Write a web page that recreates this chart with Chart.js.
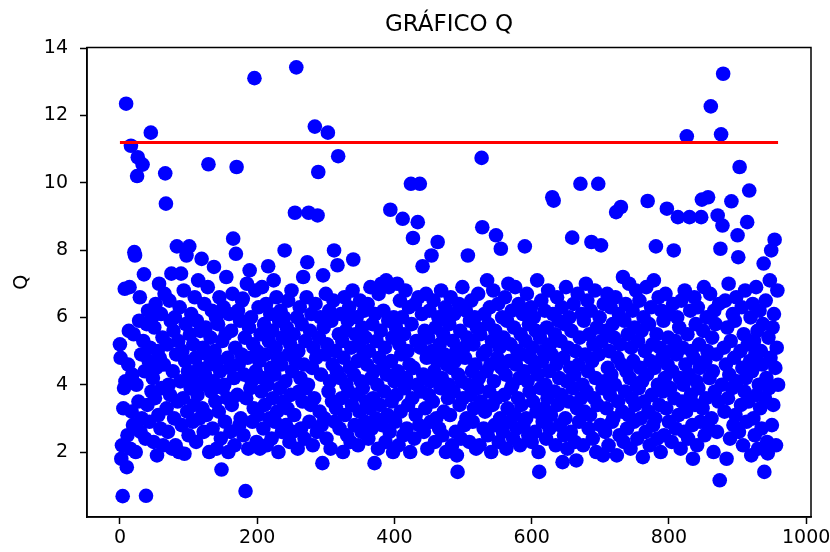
<!DOCTYPE html>
<html>
<head>
    <meta charset="utf-8">
    <title>GRÁFICO Q</title>
    <script src="https://cdn.jsdelivr.net/npm/chart.js@4"></script>
    <style>
        html, body {
            margin: 0;
            padding: 0;
            background: #fff;
        }

        #chart-container {
            width: 830px;
            height: 552px;
            position: relative;
        }
    </style>
</head>
<body>
    <div id="chart-container">
        <canvas id="chart"></canvas>
    </div>

    <script>
        // valores de Q, uno por muestra (el eje X es el índice de la muestra)
        const valoresQ = [
            5.2, 4.8, 1.8, 2.2, 0.69, 3.3, 3.9, 6.85, 4.1, 12.35, 1.55, 2.5, 4.6, 5.6, 6.9, 2.1, 11.1, 3.2, 4.3, 2.8, 5.5, 7.94, 7.84, 2.0, 4.0, 10.2, 10.76, 3.5, 5.9, 6.6, 2.6, 4.9, 3.0, 10.54, 5.3, 7.28, 4.4, 2.4, 0.7, 5.8,
            3.4, 6.2, 4.7, 2.9, 5.1, 11.49, 3.8, 6.0, 4.2, 2.3, 5.7, 3.6, 6.4, 4.5, 1.9, 5.0, 3.1, 7.0, 4.8, 2.7, 6.1, 3.9, 5.4, 2.2, 4.6, 6.7, 10.28, 9.38, 3.3, 5.2, 2.6, 4.0, 6.5, 3.7, 5.9, 7.3, 2.1, 4.4, 5.6, 3.0,
            6.0, 2.2, 4.9, 8.11, 3.5, 5.3, 2.0, 6.3, 4.1, 7.3, 2.8, 5.0, 3.6, 6.8, 1.95, 4.7, 5.8, 7.84, 3.2, 4.4, 2.5, 8.11, 5.5, 3.9, 6.1, 4.2, 2.9, 5.2, 3.4, 6.6, 4.8, 2.3, 5.9, 3.7, 7.1, 4.5, 3.0, 5.6, 4.0, 7.74,
            3.3, 5.1, 2.6, 6.4, 4.3, 5.7, 3.1, 4.9, 6.9, 10.55, 2.0, 4.6, 5.4, 3.8, 6.2, 2.7, 4.1, 7.5, 5.0, 3.5, 6.0, 2.1, 4.7, 5.8, 3.2, 6.6, 4.4, 2.4, 1.48, 5.3, 3.9, 6.3, 4.0, 2.9, 5.5, 7.2, 3.6, 4.8, 2.0, 6.1,
            4.5, 2.6, 5.6, 3.4, 6.7, 8.34, 4.2, 2.2, 5.1, 7.89, 10.47, 3.7, 6.2, 4.6, 2.8, 5.9, 3.0, 4.9, 6.5, 6.56, 2.5, 4.3, 5.4, 0.84, 3.6, 7.0, 4.8, 2.1, 5.7, 7.4, 3.9, 6.0, 4.1, 2.9, 5.2, 3.3, 13.11, 6.8, 4.4, 2.3,
            5.0, 3.1, 6.3, 4.7, 2.1, 5.5, 3.8, 6.9, 4.2, 2.7, 5.8, 3.4, 4.9, 6.4, 2.2, 4.0, 7.52, 5.3, 3.0, 6.1, 4.5, 2.4, 5.6, 3.6, 7.1, 4.3, 2.9, 5.1, 6.6, 3.2, 4.8, 2.0, 5.9, 3.9, 6.2, 4.6, 2.6, 5.4, 3.5, 6.0,
            7.99, 4.1, 2.8, 5.7, 3.3, 6.5, 4.9, 2.3, 5.2, 3.7, 6.8, 4.4, 2.6, 5.5, 3.1, 9.11, 4.7, 13.43, 6.0, 2.1, 5.0, 3.8, 6.3, 4.2, 2.7, 5.8, 3.5, 7.2, 4.6, 2.4, 5.3, 3.9, 6.6, 7.64, 4.0, 9.11, 2.9, 5.6, 3.4, 6.1,
            4.5, 2.2, 5.1, 3.6, 11.67, 6.4, 4.8, 2.6, 9.03, 10.32, 5.4, 3.2, 6.0, 4.3, 2.8, 1.67, 7.25, 5.7, 3.0, 4.9, 6.7, 2.4, 5.2, 11.49, 3.8, 6.2, 4.1, 2.1, 5.9, 3.5, 4.6, 6.5, 7.99, 2.9, 5.0, 3.3, 4.4, 7.55, 10.79, 5.5,
            2.7, 4.2, 6.1, 3.6, 5.3, 2.0, 4.8, 6.6, 3.1, 5.6, 4.0, 2.5, 5.9, 3.8, 6.3, 4.5, 2.3, 5.1, 3.4, 6.8, 7.72, 4.3, 2.8, 5.5, 3.7, 6.0, 4.7, 2.2, 5.2, 3.2, 6.5, 4.1, 2.6, 5.7, 3.9, 4.9, 6.2, 2.9, 5.4, 3.5,
            4.6, 6.4, 2.4, 5.0, 3.3, 6.9, 4.2, 2.7, 5.8, 3.6, 4.4, 1.67, 6.1, 3.0, 5.3, 4.0, 2.1, 6.7, 4.8, 3.4, 5.6, 7.0, 2.8, 4.5, 6.2, 3.8, 5.1, 2.3, 7.1, 4.3, 3.1, 5.9, 6.9, 2.6, 9.2, 4.7, 3.5, 5.4, 2.0, 6.0,
            4.1, 2.9, 5.7, 3.7, 7.0, 4.4, 2.2, 5.2, 6.5, 3.2, 4.9, 6.0, 8.93, 2.5, 5.5, 3.9, 6.8, 4.2, 2.7, 5.0, 3.4, 6.3, 4.6, 2.0, 9.97, 5.8, 3.6, 8.36, 4.5, 2.4, 6.4, 3.1, 5.3, 4.0, 8.83, 6.6, 2.8, 9.97, 5.1, 3.8,
            6.1, 7.52, 4.3, 2.6, 5.6, 3.3, 6.7, 4.8, 2.1, 5.4, 3.7, 6.2, 4.1, 2.9, 7.84, 5.0, 3.5, 6.5, 4.4, 2.3, 5.7, 3.0, 4.7, 8.24, 6.0, 2.7, 5.2, 3.9, 6.8, 4.2, 2.5, 5.5, 3.2, 4.9, 6.3, 2.0, 4.6, 5.9, 3.6, 4.0,
            5.8, 3.1, 6.6, 4.5, 2.2, 5.3, 3.8, 6.1, 4.7, 2.6, 5.0, 1.9, 1.41, 4.3, 6.4, 3.4, 5.6, 2.4, 4.1, 6.9, 3.6, 5.1, 2.8, 4.8, 6.2, 3.0, 5.4, 7.84, 4.0, 2.3, 5.9, 3.7, 6.5, 4.4, 2.9, 5.2, 3.3, 6.0, 4.6, 2.1,
            5.7, 3.9, 6.7, 4.2, 2.2, 5.5, 3.5, 10.74, 8.68, 4.9, 2.7, 6.1, 3.2, 5.0, 4.4, 7.1, 2.5, 5.8, 3.8, 6.3, 4.6, 2.0, 5.3, 3.4, 6.8, 4.1, 2.8, 5.6, 8.44, 3.6, 4.8, 6.4, 2.3, 5.1, 3.0, 8.04, 4.5, 6.0, 2.6, 5.4,
            3.7, 6.6, 4.3, 2.1, 5.9, 3.3, 7.0, 4.7, 2.9, 5.2, 3.9, 6.2, 4.0, 2.4, 5.7, 3.1, 6.9, 4.6, 2.7, 5.0, 3.6, 6.4, 4.2, 2.2, 5.5, 3.4, 4.9, 6.1, 2.8, 4.4, 8.11, 5.3, 3.0, 6.7, 4.1, 2.5, 5.8, 3.8, 4.8, 6.3,
            2.3, 5.1, 3.5, 6.0, 4.5, 2.6, 5.6, 3.2, 7.1, 4.3, 2.0, 1.41, 5.4, 3.9, 6.5, 4.7, 2.9, 5.0, 3.3, 6.2, 4.0, 2.4, 5.7, 3.6, 6.8, 4.4, 2.7, 5.2, 3.1, 4.9, 9.57, 6.1, 9.47, 3.8, 5.5, 2.2, 4.6, 6.6, 3.4, 5.9,
            4.2, 2.8, 5.3, 3.7, 6.3, 1.7, 4.8, 2.5, 5.8, 3.0, 6.9, 4.1, 2.1, 5.1, 3.5, 6.0, 4.5, 2.6, 5.6, 8.37, 3.9, 6.4, 4.3, 2.3, 5.0, 1.75, 3.3, 6.7, 4.6, 2.9, 5.4, 9.97, 3.6, 6.1, 4.0, 2.2, 5.9, 3.2, 4.9, 7.0,
            3.8, 6.5, 4.4, 2.7, 5.5, 3.1, 6.2, 8.24, 4.7, 2.4, 5.2, 3.6, 6.8, 4.2, 2.0, 5.7, 3.4, 9.97, 4.9, 6.0, 2.8, 8.14, 5.3, 3.9, 1.9, 6.4, 4.1, 2.6, 5.6, 3.3, 6.7, 4.5, 2.2, 5.0, 3.7, 6.3, 4.3, 2.9, 5.8, 3.0,
            5.4, 4.0, 6.6, 9.13, 1.9, 4.8, 3.5, 6.1, 2.5, 5.2, 9.28, 4.6, 3.2, 7.2, 2.3, 5.9, 3.8, 6.4, 4.4, 2.7, 5.5, 3.1, 7.0, 4.2, 2.1, 5.1, 3.6, 6.2, 4.7, 2.9, 5.7, 3.4, 6.8, 4.0, 2.4, 5.3, 3.9, 6.5, 4.5, 3.0,
            5.6, 4.1, 1.85, 6.0, 3.5, 5.0, 2.6, 6.9, 4.3, 9.46, 3.2, 5.8, 2.2, 4.7, 6.3, 3.7, 5.2, 2.8, 7.1, 4.5, 3.0, 8.11, 5.5, 2.4, 4.0, 6.6, 3.4, 5.1, 2.0, 6.2, 4.8, 3.8, 5.9, 2.5, 4.2, 6.7, 3.3, 9.23, 4.6, 5.4,
            2.9, 6.1, 3.9, 5.0, 2.3, 4.4, 6.4, 7.99, 3.6, 5.3, 2.7, 4.9, 6.0, 8.98, 3.1, 5.7, 4.2, 2.1, 6.5, 3.5, 5.1, 4.0, 2.6, 6.8, 4.6, 3.2, 11.38, 5.5, 2.4, 4.3, 8.98, 6.2, 3.7, 5.0, 2.8, 1.8, 4.8, 6.6, 3.4, 5.8,
            4.1, 2.2, 6.3, 3.9, 5.2, 4.5, 2.9, 8.98, 9.5, 3.3, 5.6, 6.9, 2.5, 4.7, 3.6, 6.0, 5.0, 9.57, 2.7, 4.2, 6.7, 12.27, 3.0, 5.4, 4.4, 2.0, 6.2, 3.8, 5.8, 4.9, 2.6, 9.03, 3.5, 6.4, 1.16, 8.04, 11.44, 4.0, 8.73, 13.24,
            5.1, 3.2, 6.5, 4.6, 1.8, 5.7, 3.6, 7.0, 4.3, 2.4, 5.3, 9.45, 3.9, 6.1, 2.8, 4.8, 5.9, 3.1, 6.6, 4.1, 8.44, 7.79, 2.6, 10.47, 5.0, 3.4, 6.3, 4.5, 2.2, 5.5, 3.8, 6.8, 4.2, 2.9, 8.83, 5.2, 3.5, 9.77, 4.7, 6.0,
            1.9, 4.4, 6.4, 3.0, 5.3, 2.5, 4.9, 6.9, 3.7, 5.6, 2.1, 4.0, 6.2, 3.3, 5.0, 2.7, 4.6, 5.8, 7.6, 1.41, 3.6, 6.5, 4.2, 2.3, 1.96, 5.4, 3.9, 7.1, 4.8, 7.99, 2.8, 5.7, 3.4, 6.1, 8.31, 4.5, 2.2, 5.1, 6.8, 4.0
        ];

        // umbral dibujado como línea roja horizontal
        const umbralQ = 11.2;
        const umbralDesde = 0;
        const umbralHasta = 959;

        // marcas de los ejes
        const marcasX = [0, 200, 400, 600, 800, 1000];
        const marcasY = [2, 4, 6, 8, 10, 12, 14];

        const puntos = valoresQ.map((q, i) => ({ x: i, y: q }));
        const lineaUmbral = [
            { x: umbralDesde, y: umbralQ },
            { x: umbralHasta, y: umbralQ }
        ];

        const fuente = 'DejaVu Sans';

        // marco completo del área de datos, título y etiqueta del eje Y
        const marcoYTextos = {
            id: 'marcoYTextos',
            afterDraw(chart) {
                const { ctx, chartArea } = chart;
                ctx.save();
                ctx.strokeStyle = '#000';
                ctx.lineWidth = 1.5;
                ctx.strokeRect(chartArea.left, chartArea.top,
                    chartArea.right - chartArea.left, chartArea.bottom - chartArea.top);

                ctx.fillStyle = '#000';
                ctx.font = '23px "' + fuente + '"';
                ctx.textAlign = 'center';
                ctx.textBaseline = 'alphabetic';
                ctx.fillText('GRÁFICO Q', (chartArea.left + chartArea.right) / 2, 31);

                ctx.font = '19px "' + fuente + '"';
                ctx.translate(22, (chartArea.top + chartArea.bottom) / 2);
                ctx.rotate(-Math.PI / 2);
                ctx.textBaseline = 'middle';
                ctx.fillText('Q', 0, 0);
                ctx.restore();
            }
        };

        const canvas = document.getElementById('chart');
        const ctx = canvas.getContext('2d');

        const chart = new Chart(ctx, {
            type: 'scatter',
            data: {
                datasets: [
                    {
                        type: 'line',
                        label: 'Umbral',
                        data: lineaUmbral,
                        borderColor: '#ff0000',
                        borderWidth: 3,
                        pointRadius: 0,
                        fill: false,
                        order: 0
                    },
                    {
                        label: 'Q',
                        data: puntos,
                        backgroundColor: '#0000ff',
                        borderWidth: 0,
                        pointRadius: 7.3,
                        pointHoverRadius: 7.3,
                        order: 1
                    }
                ]
            },
            options: {
                responsive: true,
                maintainAspectRatio: false,
                devicePixelRatio: 1,
                animation: false,
                events: [],
                layout: {
                    padding: { top: 47.5, right: 19, bottom: 0, left: 0 }
                },
                plugins: {
                    legend: { display: false },
                    tooltip: { enabled: false }
                },
                scales: {
                    x: {
                        type: 'linear',
                        min: -48,
                        max: 1007,
                        afterBuildTicks: (scale) => {
                            scale.ticks = marcasX.map(v => ({ value: v }));
                        },
                        afterFit: (scale) => {
                            scale.height = 35;
                            scale.paddingLeft = 0;
                            scale.paddingRight = 0;
                        },
                        grid: {
                            drawOnChartArea: false,
                            drawTicks: true,
                            tickLength: 7,
                            tickWidth: 1.5,
                            tickColor: '#000'
                        },
                        border: { display: true, color: '#000', width: 1.5 },
                        ticks: {
                            color: '#000',
                            padding: 3,
                            maxRotation: 0,
                            font: { family: fuente, size: 19 },
                            callback: (v) => String(v)
                        }
                    },
                    y: {
                        type: 'linear',
                        min: 0.07,
                        max: 14.02,
                        afterBuildTicks: (scale) => {
                            scale.ticks = marcasY.map(v => ({ value: v }));
                        },
                        afterFit: (scale) => {
                            scale.width = 87;
                            scale.paddingTop = 0;
                            scale.paddingBottom = 0;
                        },
                        grid: {
                            drawOnChartArea: false,
                            drawTicks: true,
                            tickLength: 7,
                            tickWidth: 1.5,
                            tickColor: '#000'
                        },
                        border: { display: true, color: '#000', width: 1.5 },
                        ticks: {
                            color: '#000',
                            padding: 12,
                            font: { family: fuente, size: 19 },
                            callback: (v) => String(v)
                        }
                    }
                }
            },
            plugins: [marcoYTextos]
        });
    </script>
</body>
</html>
